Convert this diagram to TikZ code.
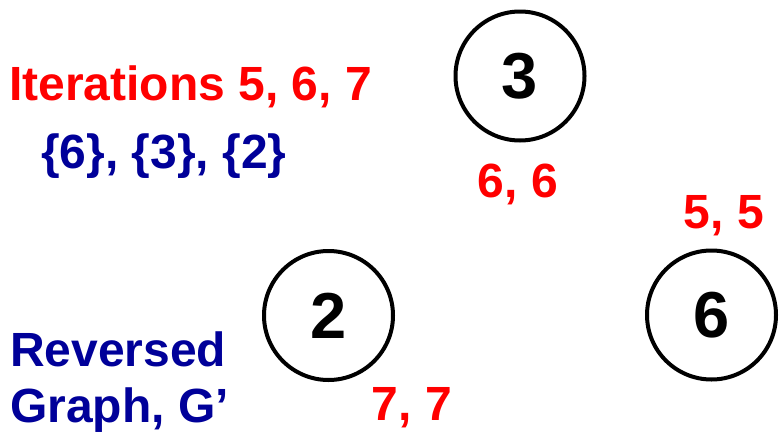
\documentclass[tikz,border=0pt]{standalone}
\usepackage{fontspec}
\setmainfont{Liberation Sans}
\definecolor{navy}{RGB}{0,0,153}
\begin{document}
\begin{tikzpicture}[x=1pt,y=1pt,
  vert/.style={circle,draw=black,line width=4pt,minimum size=129pt,inner sep=0pt,font=\fontsize{65}{70}\selectfont\bfseries},
  lbl/.style={inner sep=0pt,font=\fontsize{48}{56}\selectfont\bfseries},
  red lbl/.style={lbl,text=red},
  blue lbl/.style={lbl,text=navy}]
\useasboundingbox (0,0) rectangle (779,-434);
\node[vert] (v3) at (520,-76) {3};
\node[vert] (v2) at (328.5,-315.5) {2};
\node[vert] (v6) at (711.5,-315) {6};
\node[red lbl,anchor=base west] (iter) at (9,-100) {Iterations 5, 6, 7};
\node[blue lbl,anchor=base west] (sets) at (41,-168) {\{6\}, \{3\}, \{2\}};
\node[red lbl,anchor=base] (l3) at (518,-197) {6, 6};
\node[red lbl,anchor=base] (l6) at (724,-228) {5, 5};
\node[red lbl,anchor=base] (l2) at (412,-420) {7, 7};
\node[blue lbl,anchor=base west] (rev) at (10,-366) {Reversed};
\node[blue lbl,anchor=base west] (gr) at (10,-422) {Graph, G’};
\end{tikzpicture}
\end{document}
